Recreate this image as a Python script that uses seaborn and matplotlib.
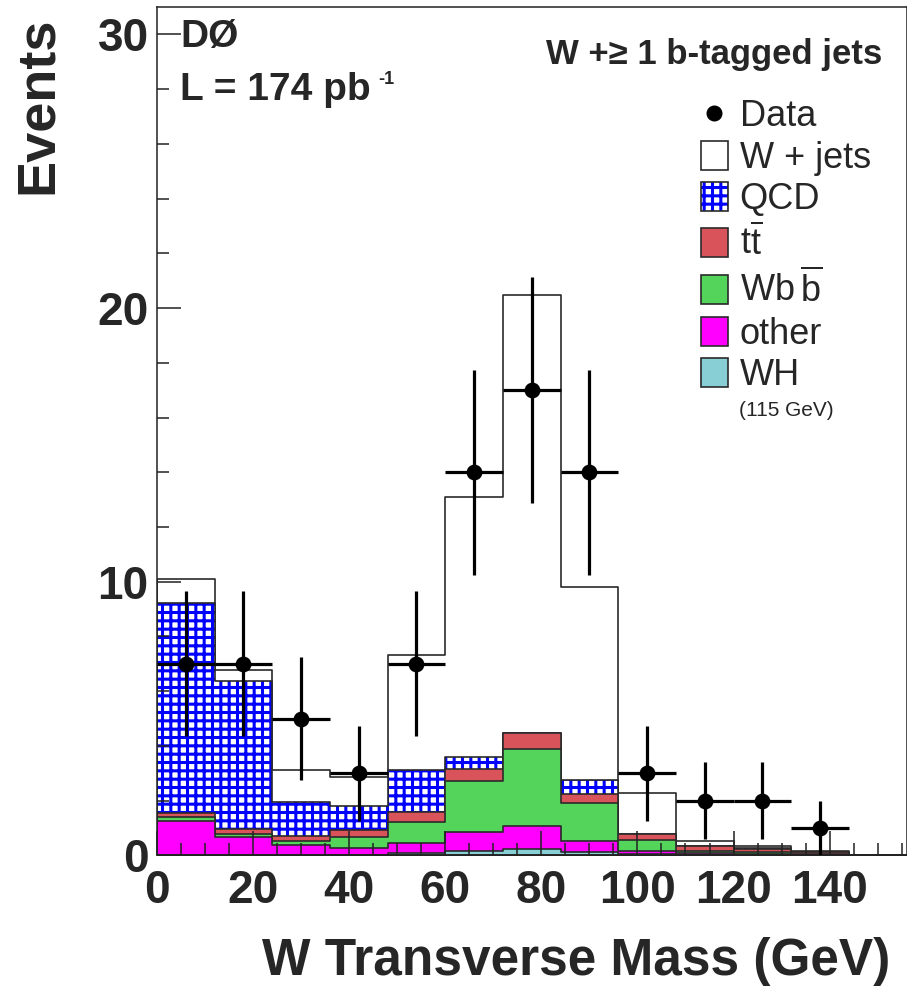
import numpy as np
import pandas as pd
import matplotlib
matplotlib.use("Agg")
import matplotlib.pyplot as plt
import seaborn as sns
from matplotlib.patches import Patch
from matplotlib.lines import Line2D
from matplotlib.ticker import MultipleLocator

# ---------------- data ----------------
bin_edges = [0, 12, 24, 36, 48, 60, 72, 84, 96, 108, 120, 132, 144, 156]
data_counts = [7, 7, 5, 3, 7, 14, 17, 14, 3, 2, 2, 1, 0]
wh_115 = [0.02, 0.02, 0.02, 0.03, 0.09, 0.17, 0.22, 0.12, 0.04, 0.02, 0.01, 0.00, 0.00]
other = [1.25, 0.66, 0.36, 0.23, 0.37, 0.70, 0.85, 0.42, 0.12, 0.06, 0.04, 0.02, 0.00]
wbb = [0.12, 0.10, 0.16, 0.40, 0.77, 1.85, 2.81, 1.36, 0.40, 0.09, 0.09, 0.03, 0.00]
ttbar = [0.15, 0.19, 0.17, 0.27, 0.35, 0.44, 0.58, 0.34, 0.21, 0.19, 0.08, 0.09, 0.01]
qcd = [7.70, 5.39, 1.24, 0.88, 1.54, 0.43, 0.00, 0.52, 0.00, 0.00, 0.06, 0.00, 0.00]
wjets = [0.86, 0.40, 1.17, 1.04, 4.21, 9.49, 16.00, 7.04, 1.50, 0.17, 0.08, 0.01, 0.00]

xticks = [0, 20, 40, 60, 80, 100, 120, 140]
yticks = [0, 10, 20, 30]

# stack order: bottom -> top
stack_names = ["WH", "other", "Wbb", "ttbar", "QCD", "W + jets"]
stack_values = [wh_115, other, wbb, ttbar, qcd, wjets]
stack_colors = ["#88cfd5", "#ff00ff", "#55d45b", "#d9545a", "#0000ff", "#ffffff"]

# ---------------- style ----------------
sns.set_theme(style="white")
plt.rcParams["font.family"] = ["Liberation Sans", "DejaVu Sans"]
plt.rcParams["mathtext.fontset"] = "custom"
plt.rcParams["mathtext.rm"] = "Liberation Sans"
plt.rcParams["mathtext.bf"] = "Liberation Sans:bold"
plt.rcParams["hatch.linewidth"] = 2.2

outline = "#2a2a2a"

fig = plt.figure(figsize=(9.07, 9.92), dpi=100)
W, H = 907.0, 992.0
ax = fig.add_axes([157 / W, 1 - 855.4 / H, (906.5 - 157) / W, (855.4 - 7) / H])

edges = np.array(bin_edges, dtype=float)
centers = (edges[:-1] + edges[1:]) / 2
halfw = np.diff(edges) / 2
cum = np.cumsum(np.array(stack_values, dtype=float), axis=0)

def draw_layer(values, color, **kws):
    df = pd.DataFrame({"mass": centers, "w": values})
    sns.histplot(data=df, x="mass", weights="w", bins=list(bin_edges),
                 element="step", fill=True, alpha=1, color=color, ax=ax, **kws)

# draw the stack from the top-most cumulative down to the bottom
for i in reversed(range(len(stack_names))):
    name = stack_names[i]
    if name == "QCD":
        draw_layer(cum[i], "#0000ff", facecolor="white", edgecolor="#0000ff",
                   hatch="++", linewidth=0)
        draw_layer(cum[i], outline, facecolor=(0, 0, 0, 0), edgecolor=outline,
                   linewidth=1.2)
    else:
        draw_layer(cum[i], stack_colors[i], facecolor=stack_colors[i],
                   edgecolor=outline, linewidth=1.2)

# data points
counts = np.array(data_counts, dtype=float)
mask = counts > 0
ax.errorbar(centers[mask], counts[mask], xerr=halfw[mask], yerr=np.sqrt(counts[mask]),
            fmt="none", ecolor="black", elinewidth=2.3, capsize=0, zorder=5)
sns.scatterplot(x=centers[mask], y=counts[mask], color="black", s=130,
                edgecolor="black", linewidth=0, zorder=6, ax=ax, legend=False)

# axes
ax.set_xlim(edges[0], edges[-1])
ax.set_ylim(0, 31)
ax.set_xlabel("")
ax.set_ylabel("")
ax.set_axisbelow(False)
ax.set_xticks(xticks, [str(t) for t in xticks], fontweight="bold", fontsize=33)
ax.set_yticks(yticks, [str(t) for t in yticks], fontweight="bold", fontsize=33)
ax.xaxis.set_minor_locator(MultipleLocator(5))
ax.yaxis.set_minor_locator(MultipleLocator(2))
ax.tick_params(which="major", direction="in", length=17, width=1.1, color="#222222",
               top=False, right=False, bottom=True, left=True)
ax.tick_params(which="minor", direction="in", length=8.5, width=1.1, color="#222222",
               top=False, right=False, bottom=True, left=True)
ax.tick_params(axis="x", which="major", pad=10)
ax.tick_params(axis="y", which="major", pad=6)
for sp in ax.spines.values():
    sp.set_linewidth(1.1)
    sp.set_color("#222222")

# texts
ax.text(0.031, 0.965, "DØ", transform=ax.transAxes, fontsize=28,
        fontweight="bold", ha="left", va="center")
lum = ax.text(0.031, 0.902, "L = 174 pb", transform=ax.transAxes,
              fontsize=28, fontweight="bold", ha="left", va="center")
ax.annotate("-1", xy=(1, 1), xycoords=lum, xytext=(5, 1), textcoords="offset points",
            fontsize=13, fontweight="bold", ha="left", va="top")
ax.text(0.967, 0.9446, "W +\u2265 1 b-tagged jets", transform=ax.transAxes,
        fontsize=25, fontweight="bold", ha="right", va="center")

fig.text(52 / W, 1 - 16 / H, "Events", rotation=90, rotation_mode="anchor",
         ha="right", va="baseline", fontsize=39, fontweight="bold")
fig.text(890 / W, 1 - 975 / H, "W Transverse Mass (GeV)", ha="right",
         va="baseline", fontsize=37, fontweight="bold")

# legend
handles = [
    Line2D([], [], marker="o", ls="none", color="black", ms=10.5),
    Patch(facecolor="white", edgecolor=outline, linewidth=1.2),
    (Patch(facecolor="white", edgecolor="#0000ff", hatch="++", linewidth=0),
     Patch(facecolor="none", edgecolor=outline, linewidth=1.2)),
    Patch(facecolor=stack_colors[3], edgecolor=outline, linewidth=1.2),
    Patch(facecolor=stack_colors[2], edgecolor=outline, linewidth=1.2),
    Patch(facecolor=stack_colors[1], edgecolor=outline, linewidth=1.2),
    Patch(facecolor=stack_colors[0], edgecolor=outline, linewidth=1.2),
]
labels = ["Data", "W + jets", "QCD", r"$\mathregular{t\overline{t}}$",
          r"$\mathregular{Wb\,\overline{b}}$", "other", "WH"]
ax.legend(handles, labels, loc="upper left",
          bbox_to_anchor=(700.7 / W, 1 - 99 / H), bbox_transform=fig.transFigure,
          frameon=False, fontsize=26, handlelength=0.75, handleheight=0.86,
          handletextpad=0.33, labelspacing=0.185, borderpad=0, borderaxespad=0)
fig.text(739 / W, 1 - 411 / H, "(115 GeV)", fontsize=15, ha="left", va="center")

fig.savefig("out.png", dpi=100)
